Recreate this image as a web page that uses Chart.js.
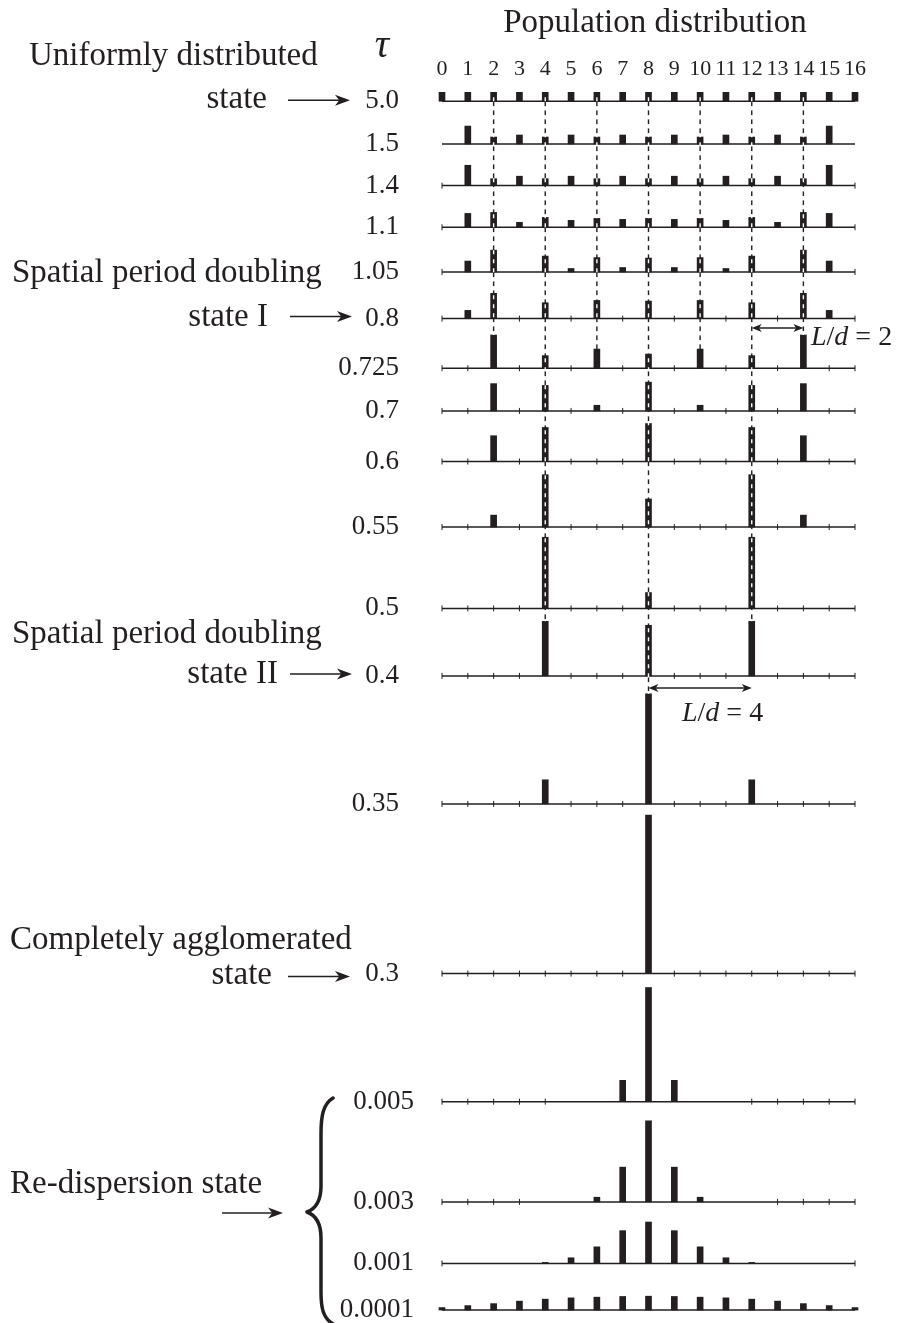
<!DOCTYPE html>
<html>
<head>
<meta charset="utf-8">
<script src="https://cdn.jsdelivr.net/npm/chart.js@4.4.1/dist/chart.umd.min.js"></script>
<style>
  html, body { margin: 0; padding: 0; background: #fff; }
  #wrap { width: 901px; height: 1323px; }
</style>
</head>
<body>
<div id="wrap"><canvas id="chart" width="901" height="1323"></canvas></div>
<script>
// lattice sites (x axis tick labels)
const sites = [0, 1, 2, 3, 4, 5, 6, 7, 8, 9, 10, 11, 12, 13, 14, 15, 16];

// tau value of each row, top to bottom
const tauLabels = ["5.0", "1.5", "1.4", "1.1", "1.05", "0.8", "0.725", "0.7", "0.6",
  "0.55", "0.5", "0.4", "0.35", "0.3", "0.005", "0.003", "0.001", "0.0001"];

// population at each site, one array per tau
const popTau5_0   = [9, 9, 9, 9, 9, 9, 9, 9, 9, 9, 9, 9, 9, 9, 9, 9, 9];
const popTau1_5   = [0, 18, 7, 9, 7, 9, 7, 9, 7, 9, 7, 9, 7, 9, 7, 18, 0];
const popTau1_4   = [0, 20.5, 7, 9.5, 7, 9.5, 7, 9.5, 7, 9.5, 7, 9.5, 7, 9.5, 7, 20.5, 0];
const popTau1_1   = [0, 14, 15, 5, 10, 7, 9, 8, 9, 8, 9, 7, 10, 5, 15, 14, 0];
const popTau1_05  = [0, 11, 22, 0, 16, 3.5, 14.5, 4.5, 14, 4.5, 14.5, 3.5, 16, 0, 22, 11, 0];
const popTau0_8   = [0, 8.3, 25.5, 0, 16, 0, 18.3, 0, 17.7, 0, 18.3, 0, 16, 0, 25.5, 8.3, 0];
const popTau0_725 = [0, 0, 33.5, 0, 12.7, 0, 19.3, 0, 14.3, 0, 19.3, 0, 12.7, 0, 33.5, 0, 0];
const popTau0_7   = [0, 0, 27.5, 0, 25.7, 0, 5.7, 0, 29, 0, 5.7, 0, 25.7, 0, 27.5, 0, 0];
const popTau0_6   = [0, 0, 26, 0, 34.3, 0, 0, 0, 38.3, 0, 0, 0, 34.3, 0, 26, 0, 0];
const popTau0_55  = [0, 0, 12, 0, 52.7, 0, 0, 0, 28.3, 0, 0, 0, 52.7, 0, 12, 0, 0];
const popTau0_5   = [0, 0, 0, 0, 71.7, 0, 0, 0, 16, 0, 0, 0, 71.7, 0, 0, 0, 0];
const popTau0_4   = [0, 0, 0, 0, 55, 0, 0, 0, 51, 0, 0, 0, 55, 0, 0, 0, 0];
const popTau0_35  = [0, 0, 0, 0, 24.3, 0, 0, 0, 111, 0, 0, 0, 24.3, 0, 0, 0, 0];
const popTau0_3   = [0, 0, 0, 0, 0, 0, 0, 0, 159.7, 0, 0, 0, 0, 0, 0, 0, 0];
const popTau0_005 = [0, 0, 0, 0, 0, 0, 0, 21.5, 115, 21.5, 0, 0, 0, 0, 0, 0, 0];
const popTau0_003 = [0, 0, 0, 0, 0, 0, 4.7, 35, 81.7, 35, 4.7, 0, 0, 0, 0, 0, 0];
const popTau0_001 = [0, 0, 0, 0, 1, 5.7, 16.7, 33, 41.7, 33, 16.7, 5.7, 1, 0, 0, 0, 0];
const popTau0_0001 = [2.5, 4.5, 6.5, 9, 11, 12.3, 13, 13.7, 14, 13.7, 13, 12.3, 11, 9, 6.5, 4.5, 2.5];

const populations = [popTau5_0, popTau1_5, popTau1_4, popTau1_1, popTau1_05, popTau0_8,
  popTau0_725, popTau0_7, popTau0_6, popTau0_55, popTau0_5, popTau0_4, popTau0_35,
  popTau0_3, popTau0_005, popTau0_003, popTau0_001, popTau0_0001];

// sites that carry a tick mark on each row's axis
const tickSites = [
  [], [], [0, 16], [0, 16], [0, 16],
  [0, 3, 5, 7, 9, 11, 13, 16],
  [0, 1, 3, 5, 7, 9, 11, 13, 15, 16],
  [0, 1, 3, 5, 7, 9, 11, 13, 15, 16],
  [0, 1, 3, 5, 6, 7, 9, 10, 11, 13, 15, 16],
  [0, 1, 3, 5, 6, 7, 9, 10, 11, 13, 15, 16],
  [0, 1, 2, 3, 5, 6, 7, 9, 10, 11, 13, 14, 15, 16],
  [0, 1, 2, 3, 5, 6, 7, 9, 10, 11, 13, 14, 15, 16],
  [0, 1, 2, 3, 5, 6, 7, 9, 10, 11, 13, 14, 15, 16],
  [0, 1, 2, 3, 4, 5, 6, 7, 9, 10, 11, 12, 13, 14, 15, 16],
  [0, 1, 2, 3, 4, 12, 13, 14, 15, 16],
  [0, 1, 2, 3, 13, 14, 15, 16],
  [0, 16],
  []
];

// dashed guide lines: site and the row where each one stops
const guideSites = [2, 4, 6, 8, 10, 12, 14];
const guideEndRow = [6, 11, 6, 12, 6, 11, 6];

// layout: vertical level of each row's axis (y axis runs top-down in px)
const rowBase = [97, 140, 182, 224, 269, 316, 366, 409, 460, 526, 608, 676, 805, 976, 1105, 1206, 1268, 1315];

const ink = "#231f20";
const serif = '"Liberation Serif", "Times New Roman", serif';

const datasets = [];
populations.forEach((pop, r) => {
  const base = rowBase[r];
  datasets.push({
    type: "line",
    data: [{ x: 0, y: base }, { x: 16, y: base }],
    borderColor: ink,
    borderWidth: 1.5,
    pointRadius: 0,
    order: 5,
    clip: false,
  });
  datasets.push({
    type: "bar",
    data: sites.filter((s) => pop[s] > 0).map((s) => ({ x: s, y: [base, base - pop[s]] })),
    backgroundColor: ink,
    borderWidth: 0,
    barThickness: 6,
    grouped: false,
    order: 3,
    clip: false,
  });
});

const tickPoints = [];
tickSites.forEach((list, r) => list.forEach((s) => tickPoints.push({ x: s, y: rowBase[r] })));
datasets.push({
  type: "scatter",
  data: tickPoints,
  pointStyle: "line",
  pointRotation: 90,
  pointRadius: 3,
  pointBorderColor: ink,
  pointBorderWidth: 1,
  borderColor: ink,
  order: 4,
  clip: false,
});

guideSites.forEach((s, k) => {
  const endRow = guideEndRow[k];
  const pts = [
    { x: s, y: rowBase[0] - popTau5_0[s] },
    { x: s, y: rowBase[endRow] - populations[endRow][s] },
  ];
  datasets.push({
    type: "line", data: pts, borderColor: ink, borderWidth: 1.4,
    borderDash: [5, 4], pointRadius: 0, order: 2, clip: false,
  });
  datasets.push({
    type: "line", data: pts, borderColor: "#fff", borderWidth: 1.4,
    borderDash: [4, 5], borderDashOffset: 4, pointRadius: 0, order: 1, clip: false,
  });
});

function arrowHead(ctx, x, y, dir, len, half) {
  ctx.beginPath();
  ctx.moveTo(x, y);
  ctx.lineTo(x - dir * len, y - half);
  ctx.lineTo(x - dir * len * 0.72, y);
  ctx.lineTo(x - dir * len, y + half);
  ctx.closePath();
  ctx.fill();
}

function arrowRight(ctx, x1, x2, y) {
  ctx.lineWidth = 1.5;
  ctx.beginPath();
  ctx.moveTo(x1, y);
  ctx.lineTo(x2 - 8, y);
  ctx.stroke();
  arrowHead(ctx, x2, y, 1, 15, 5.5);
}

function doubleArrow(ctx, x1, x2, y) {
  ctx.lineWidth = 1.3;
  ctx.beginPath();
  ctx.moveTo(x1 + 5, y);
  ctx.lineTo(x2 - 5, y);
  ctx.stroke();
  arrowHead(ctx, x2, y, 1, 10, 4);
  arrowHead(ctx, x1, y, -1, 10, 4);
}

function mathText(ctx, parts, x, y) {
  let cx = x;
  ctx.textAlign = "left";
  parts.forEach(([t, italic]) => {
    ctx.font = (italic ? "italic " : "") + "28px " + serif;
    ctx.fillText(t, cx, y);
    cx += ctx.measureText(t).width;
  });
}

const annotate = {
  id: "annotate",
  afterDatasetsDraw(chart) {
    const { ctx } = chart;
    const xs = chart.scales.x;
    const ys = chart.scales.y;
    ctx.save();
    ctx.fillStyle = ink;
    ctx.strokeStyle = ink;
    ctx.textBaseline = "alphabetic";

    // title and site numbers
    ctx.font = "33px " + serif;
    ctx.textAlign = "center";
    ctx.fillText("Population distribution", (xs.getPixelForValue(2.35) + xs.getPixelForValue(14.15)) / 2, 32);
    ctx.font = "22px " + serif;
    sites.forEach((s) => ctx.fillText(String(s), xs.getPixelForValue(s), 75));

    // tau header
    ctx.font = "italic 40px " + serif;
    ctx.fillText("\u03C4", 382, 57);

    // tau labels
    ctx.font = "27px " + serif;
    ctx.textAlign = "right";
    tauLabels.forEach((t, r) => {
      const right = r >= 14 ? 414 : 399;
      ctx.fillText(t, right, ys.getPixelForValue(rowBase[r]) + 7);
    });

    // state descriptions
    ctx.font = "33px " + serif;
    ctx.textAlign = "left";
    ctx.fillText("Uniformly distributed", 29, 65);
    ctx.fillText("Spatial period doubling", 12, 282);
    ctx.fillText("Spatial period doubling", 12, 643);
    ctx.fillText("Completely agglomerated", 10, 949);
    ctx.fillText("Re-dispersion state", 10, 1193);
    ctx.textAlign = "right";
    ctx.fillText("state", 267, ys.getPixelForValue(rowBase[0]) + 7);
    ctx.fillText("state I", 268, ys.getPixelForValue(rowBase[5]) + 7);
    ctx.fillText("state II", 278, ys.getPixelForValue(rowBase[11]) + 7);
    ctx.fillText("state", 272, ys.getPixelForValue(rowBase[13]) + 10);

    arrowRight(ctx, 288, 350, ys.getPixelForValue(rowBase[0]) - 1);
    arrowRight(ctx, 290, 352, ys.getPixelForValue(rowBase[5]) - 2);
    arrowRight(ctx, 290, 352, ys.getPixelForValue(rowBase[11]) - 2);
    arrowRight(ctx, 288, 350, ys.getPixelForValue(rowBase[13]) + 3);
    arrowRight(ctx, 222, 283, 1213);

    // brace for the re-dispersion rows
    ctx.lineWidth = 3.5;
    ctx.lineCap = "round";
    ctx.lineJoin = "round";
    ctx.beginPath();
    ctx.moveTo(333, 1098);
    ctx.bezierCurveTo(323, 1104, 321, 1116, 321, 1134);
    ctx.lineTo(321, 1186);
    ctx.bezierCurveTo(321, 1202, 315, 1209, 307, 1212);
    ctx.bezierCurveTo(315, 1215, 321, 1222, 321, 1238);
    ctx.lineTo(321, 1292);
    ctx.bezierCurveTo(321, 1308, 323, 1318, 333, 1324);
    ctx.stroke();

    // L/d markers
    ctx.lineCap = "butt";
    doubleArrow(ctx, xs.getPixelForValue(12), xs.getPixelForValue(14), 328);
    mathText(ctx, [["L", true], ["/", false], ["d", true], [" = 2", false]], 811, 345);
    doubleArrow(ctx, xs.getPixelForValue(8), xs.getPixelForValue(12), 688);
    mathText(ctx, [["L", true], ["/", false], ["d", true], [" = 4", false]], 682, 721);

    ctx.restore();
  },
};

new Chart(document.getElementById("chart").getContext("2d"), {
  type: "bar",
  data: { datasets },
  options: {
    responsive: false,
    animation: false,
    events: [],
    layout: { padding: { left: 442, right: 46, top: 0, bottom: 0 } },
    scales: {
      x: { type: "linear", min: 0, max: 16, offset: false, display: false },
      y: { type: "linear", min: 0, max: 1323, reverse: true, display: false },
    },
    plugins: {
      legend: { display: false },
      tooltip: { enabled: false },
    },
  },
  plugins: [annotate],
});
</script>
</body>
</html>
